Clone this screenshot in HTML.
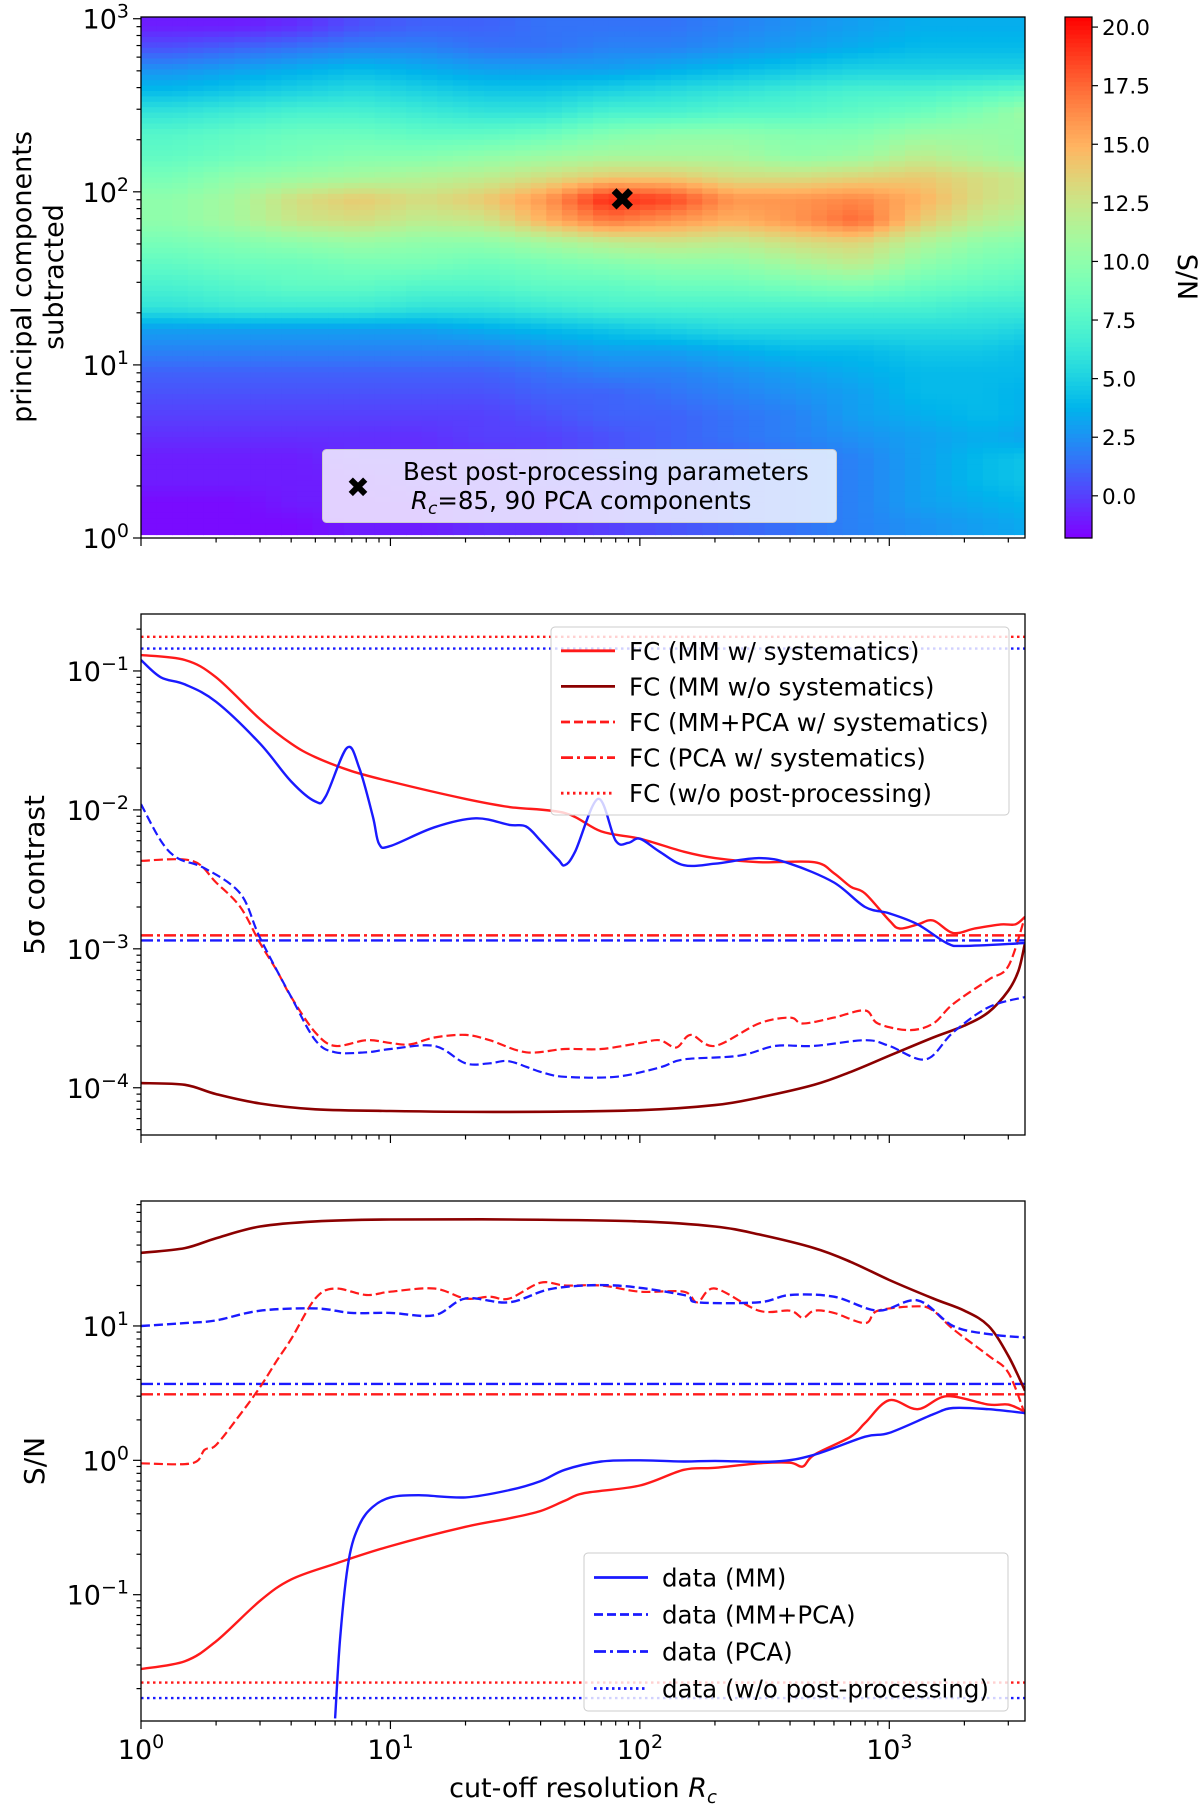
<!DOCTYPE html>
<html><head><meta charset="utf-8"><style>
html,body{margin:0;padding:0;background:#fff;}
svg{display:block;font-family:"DejaVu Sans","Liberation Sans",sans-serif;}
</style></head><body>
<svg id="fig" width="1200" height="1805" viewBox="0 0 1200 1805" xmlns="http://www.w3.org/2000/svg"></svg>
<script>
// ---------- Heatmap data (rows top -> bottom, log10(PCs) bands of 0.125; columns log10(Rc) bands of 0.25) ----------
const heatRows = [
[-1,-1,-0.5,0.5,1,1,1.5,1.5,1.5,2,2.5,3,3.5,3.5,3.5],
[0.5,1,1.5,2,2,1.5,1.5,2,2,2.5,3,3.5,4,4,4],
[2.5,3,3.5,4,3.5,3,3,3,3.5,4,4.5,5,5,5,5],
[4,4.5,5,5.5,5,4.5,4.5,5,5.5,6,6.5,7,7,7.5,8],
[6,6.5,7,7,6.5,6,6,7,7,7.5,7.5,8,8.5,9.5,11],
[7.5,8,8.5,8.5,8,8,8.5,9.5,10,10,9.5,9.5,10.5,10.5,10],
[8,8.5,9,9.5,9.5,10,10.5,11,11,11,10,10.5,12,11,10],
[9,10,10.5,11,11.5,12,13,14,14,13,13,13.5,14,13,12],
[10,11,13,14,13,14,16,19.5,18.5,16,16,16.5,15,13,12],
[10,11,12.5,13,12,12.5,15,17,16,15,16,17.5,14,12,11],
[9,9.5,10,10.5,10,10,11,12,12.5,12,13,13.5,11.5,10,9.5],
[8,8.5,8.5,9,9,8.5,9,9.5,10,10,11,12,10,9,8.5],
[7,7.5,8,8,7.5,7.5,8,8,8.5,8.5,9,9.5,8.5,8,7.5],
[6,6.5,6.5,6.5,6,6,6.5,7,7,7,7,7,7,6.5,6.5],
[3,3,3,3,3,3.5,4,4.5,5,5.5,5.5,5.5,5.5,5.5,5],
[2,2,2,2,2,2,2.5,3,3,3.5,4,4,4.5,4.5,4],
[1,1,1,1,1,1,1.5,2,2,2.5,3,3.5,4,4,4],
[0.5,0.5,0.5,0.5,0.5,0.5,1,1,1.5,2,2.5,3,4,4,3.5],
[0,0,0,0,0,0,0.5,1,1,1.5,2,3,3.5,4,3.5],
[-0.5,-0.5,-0.5,-0.5,-0.5,0,0,0.5,1,1.5,2,2.5,3,3.5,3],
[-1,-1,-1,-0.5,-0.5,-0.5,0,0.5,1,1,1.5,2,3,4,4.5],
[-1,-1,-1,-1,-0.5,-0.5,0,0,0.5,1,1.5,2,3,4,4.5],
[-1.5,-1.5,-1,-1,-1,-0.5,-0.5,0,0.5,1,1.5,2,3,3.5,4],
[-1.5,-1.5,-1.5,-1,-1,-0.5,-0.5,0,0.5,1,1.5,2,2.5,3,3.5]
];
const bestRc = 85, bestPC = 90;
const cbTicks = [0,2.5,5,7.5,10,12.5,15,17.5,20];

// ---------- Contrast panel data ----------
const cMMsysX = [1,1.5,2,3,4,5,7,10,20,30,50,70,100,150,200,300,500,600,700,800,1000,1100,1300,1500,1800,2200,2800,3200,3500];
const cMMsysY = [0.13,0.12,0.09,0.045,0.03,0.024,0.019,0.016,0.012,0.0105,0.0095,0.007,0.0062,0.005,0.0045,0.0042,0.0042,0.0035,0.0028,0.0025,0.0016,0.0014,0.0015,0.0016,0.0013,0.0014,0.0015,0.0015,0.0017];
const cDataMMX = [1,1.2,1.5,2,3,4,5,5.5,6.7,7.5,8.5,9,10,15,22,30,35,40,47,50,55,68,80,90,100,120,150,200,300,400,600,800,1000,1300,1700,2000,3500];
const cDataMMY = [0.12,0.09,0.08,0.06,0.03,0.016,0.0115,0.0125,0.028,0.02,0.009,0.0057,0.0055,0.0075,0.0087,0.0078,0.0076,0.006,0.0044,0.004,0.005,0.012,0.006,0.0058,0.0062,0.005,0.004,0.0041,0.0045,0.0041,0.003,0.002,0.0018,0.0015,0.0011,0.00105,0.0011];
const cMMnosysX = [1,1.5,2,3,5,10,30,100,200,300,500,700,1000,1500,2000,2500,3000,3300,3500];
const cMMnosysY = [1.08e-4,1.05e-4,9e-5,7.7e-5,7e-5,6.8e-5,6.7e-5,6.9e-5,7.5e-5,8.5e-5,1.05e-4,1.3e-4,1.7e-4,2.3e-4,2.8e-4,3.5e-4,5e-4,7e-4,1.1e-3];
const cMMPCAsysX = [1,1.6,2,2.5,3,3.5,4,5,6,8,10,12,15,20,25,35,50,70,100,120,140,160,200,300,400,450,600,800,900,1200,1500,1800,2500,3000,3500];
const cMMPCAsysY = [0.0043,0.0043,0.003,0.002,0.0011,7e-4,4.5e-4,2.5e-4,2e-4,2.2e-4,2.1e-4,2.05e-4,2.3e-4,2.4e-4,2.2e-4,1.8e-4,1.9e-4,1.9e-4,2.1e-4,2.2e-4,1.95e-4,2.4e-4,2e-4,2.9e-4,3.2e-4,2.9e-4,3.2e-4,3.6e-4,2.9e-4,2.6e-4,2.9e-4,4e-4,6e-4,7.5e-4,1.7e-3];
const cDataMMPCAX = [1,1.2,1.4,1.8,2.5,3,4,5,6,8,10,15,20,25,30,40,50,80,120,150,250,350,500,800,1000,1400,1800,2500,3500];
const cDataMMPCAY = [0.011,0.006,0.0045,0.0038,0.0025,0.0012,4.5e-4,2.2e-4,1.8e-4,1.8e-4,1.9e-4,2e-4,1.5e-4,1.5e-4,1.55e-4,1.3e-4,1.2e-4,1.2e-4,1.4e-4,1.6e-4,1.7e-4,2e-4,2e-4,2.2e-4,2e-4,1.6e-4,2.5e-4,3.8e-4,4.5e-4];
const cPCAsys = 1.25e-3, cDataPCA = 1.15e-3, cNoPPsys = 0.176, cDataNoPP = 0.145;

// ---------- S/N panel data ----------
const sMMnosysX = [1,1.5,2,3,5,10,30,100,200,300,500,700,1000,1500,2000,2500,3000,3500];
const sMMnosysY = [35,38,45,55,60,62,62,60,55,48,38,30,22,16,13,10,6,3.3];
const sMMPCAsysX = [1,1.6,1.8,2,2.5,3,3.5,4,5,6,8,10,15,20,25,30,40,50,70,100,150,170,200,300,400,450,500,600,800,900,1300,1500,1800,2500,3000,3500];
const sMMPCAsysY = [0.95,0.95,1.2,1.3,2.2,3.5,5.5,8,16,19,17,18,19,16,16.5,16,21,20,20,18,18,15,19,13,13,11.5,13,12.5,10.5,13,14,13,9.5,6,4.5,2.2];
const sDataMMPCAX = [1,1.5,2,3,5,7,10,15,20,30,45,80,150,170,300,400,600,900,1300,1800,2500,3500];
const sDataMMPCAY = [10,10.5,11,13,13.5,12.5,12.5,12,16,15,19,20,17,15,15,17,16.5,13,15.5,10,8.7,8.2];
const sMMsysX = [1,1.5,2,3,4,6,10,20,30,40,50,60,100,150,200,300,400,450,500,700,800,1000,1300,1700,2500,3000,3500];
const sMMsysY = [0.028,0.032,0.045,0.09,0.13,0.17,0.23,0.32,0.37,0.42,0.5,0.57,0.65,0.85,0.88,0.95,0.96,0.9,1.1,1.5,1.9,2.8,2.4,3.0,2.6,2.6,2.3];
const sDataMMX = [6.0,6.3,6.8,7.5,8.5,10,13,20,30,40,50,70,100,150,200,350,500,800,1000,1500,1800,2500,3500];
const sDataMMY = [0.012,0.05,0.18,0.33,0.45,0.53,0.55,0.53,0.6,0.7,0.85,0.98,1.0,0.98,0.99,0.98,1.1,1.5,1.6,2.2,2.45,2.4,2.25];
const sPCAsys = 3.1, sDataPCA = 3.7, sNoPPsys = 0.0222, sDataNoPP = 0.017;

// ---------- helpers ----------
const NS = "http://www.w3.org/2000/svg";
const svg = document.getElementById('fig');
function mk(tag, attrs, parent){ const e=document.createElementNS(NS,tag); for(const k in attrs) e.setAttribute(k,attrs[k]); (parent||svg).appendChild(e); return e; }
const X0=141, X1=1025, XMAXLOG=Math.log10(3500);
function xs(v){ return X0 + (Math.log10(v))/XMAXLOG*(X1-X0); }
function logScale(top,bottom,lmin,lmax){ return v => bottom - (Math.log10(v)-lmin)/(lmax-lmin)*(bottom-top); }
function rainbow(t){ t=Math.max(0,Math.min(1,t)); const r=Math.min(1,Math.abs(2*t-0.5)), g=Math.sin(Math.PI*t), b=Math.cos(Math.PI*t/2);
  return `rgb(${Math.round(r*255)},${Math.round(g*255)},${Math.round(b*255)})`; }
function pathFrom(xa,ya,ys,clipTop,clipBot){
  const P=xa.map((x,i)=>{ let y=ys(ya[i]); y=Math.max(clipTop-40,Math.min(clipBot+40,y)); return [xs(x),y]; });
  let d='M'+P[0][0].toFixed(1)+' '+P[0][1].toFixed(1);
  for(let i=0;i<P.length-1;i++){ const p0=P[Math.max(0,i-1)],p1=P[i],p2=P[i+1],p3=P[Math.min(P.length-1,i+2)];
    const c1=[p1[0]+(p2[0]-p0[0])/6,p1[1]+(p2[1]-p0[1])/6], c2=[p2[0]-(p3[0]-p1[0])/6,p2[1]-(p3[1]-p1[1])/6];
    d+='C'+c1[0].toFixed(1)+' '+c1[1].toFixed(1)+' '+c2[0].toFixed(1)+' '+c2[1].toFixed(1)+' '+p2[0].toFixed(1)+' '+p2[1].toFixed(1); }
  return d; }
function sup(parent, x, y, base, exp, anchor, size){
  const t=mk('text',{x:x,y:y,'font-size':size||22,'text-anchor':anchor||'middle',fill:'#000'},parent);
  const a=document.createElementNS(NS,'tspan'); a.textContent=base; t.appendChild(a);
  const b=document.createElementNS(NS,'tspan'); b.setAttribute('dy','-11'); b.setAttribute('font-size',Math.round((size||22)*0.7)); b.textContent=exp; t.appendChild(b);
  return t;
}
function xAxis(g, top, bottom, labels){
  for(let d=0; d<=3; d++){
    for(let m=1;m<=9;m++){ const v=m*Math.pow(10,d); if(v>3500) break; const x=xs(v);
      mk('line',{x1:x,x2:x,y1:bottom,y2:bottom+(m===1?8:4.5),stroke:'#000','stroke-width':1.2},g);
    }
    if(labels){ const l=sup(g, xs(Math.pow(10,d)), bottom+38, '10', String(d), 'middle', 27);
        }
  }
}
function yAxis(g, top, bottom, ys, lmin, lmax, labelExps){
  for(let d=Math.floor(lmin); d<=Math.ceil(lmax); d++){
    for(let m=1;m<=9;m++){ const v=m*Math.pow(10,d); const lv=Math.log10(v); if(lv<lmin-1e-9||lv>lmax+1e-9) continue; const y=ys(v);
      mk('line',{x1:X0,x2:X0-(m===1?8:4.5),y1:y,y2:y,stroke:'#000','stroke-width':1.2},g); }
  }
  labelExps.forEach(e=>{ const l=sup(g, X0-12, ys(Math.pow(10,e))+10, '10', String(e).replace('-','−'), 'end', 27);
      });
}
function frame(g,top,bottom){ mk('rect',{x:X0,y:top,width:X1-X0,height:bottom-top,fill:'none',stroke:'#000','stroke-width':1.3},g); }
const DASH={solid:null,dashed:'9,4',dashdot:'12,4,3,4',dotted:'2.5,3.5'};

// ================= PANEL 1: heatmap =================
const T1=17, B1=538;
const ys1 = logScale(T1,B1,0,3.01);
const g1 = mk('g',{});  
const clip=mk('clipPath',{id:'c1'}); mk('rect',{x:X0,y:T1,width:X1-X0,height:B1-T1},clip);
const gh = mk('g',{'clip-path':'url(#c1)'},g1);
const VMIN=-1.8, VMAX=20.43;
const nR=heatRows.length, nC=heatRows[0].length;
function valAt(rf,cf){ // bilinear on cell centers
  rf=Math.max(0,Math.min(nR-1,rf)); cf=Math.max(0,Math.min(nC-1,cf));
  const r0=Math.floor(rf), c0=Math.floor(cf), r1=Math.min(nR-1,r0+1), c1=Math.min(nC-1,c0+1), fr=rf-r0, fc=cf-c0;
  return heatRows[r0][c0]*(1-fr)*(1-fc)+heatRows[r0][c1]*(1-fr)*fc+heatRows[r1][c0]*fr*(1-fc)+heatRows[r1][c1]*fr*fc; }
const SUB=4;
for(let ri=0;ri<nR;ri++){ for(let si=0;si<SUB;si++){
  const lyTop = 3.02 - (ri*SUB+si)*0.125/SUB, lyBot = lyTop-0.125/SUB;
  const yT=ys1(Math.pow(10,lyTop)), yB=ys1(Math.pow(10,lyBot));
  for(let ci=0;ci<nC;ci++){ for(let sj=0;sj<SUB;sj++){
    const lxa=(ci*SUB+sj)*0.25/SUB, lxb=lxa+0.25/SUB;
    const xa = X0 + lxa/XMAXLOG*(X1-X0), xb = X0 + lxb/XMAXLOG*(X1-X0);
    const v=valAt(ri+(si+0.5)/SUB-0.5, ci+(sj+0.5)/SUB-0.5);
    const r=mk('rect',{x:xa.toFixed(1),y:yT.toFixed(1),width:(xb-xa+0.6).toFixed(1),height:(yB-yT+0.6).toFixed(1),fill:rainbow((v-VMIN)/(VMAX-VMIN))},gh);
    
    
  }}
}}
frame(g1,T1,B1);
xAxis(g1,T1,B1,false);
yAxis(g1,T1,B1,ys1,0,3.01,[0,1,2,3]);
const bm=mk('text',{x:xs(bestRc),y:ys1(bestPC)+11,'font-size':32,'text-anchor':'middle','font-weight':'bold',fill:'#000'},g1); bm.textContent='✖';
 
const lg1=mk('g',{},g1);  
mk('rect',{x:322.5,y:449.5,width:514,height:73,rx:4,fill:'rgba(255,255,255,0.8)',stroke:'#ccc','stroke-width':1},lg1);
let t=mk('text',{x:358,y:497,'font-size':28,'text-anchor':'middle',fill:'#000'},lg1); t.textContent='✖';
t=mk('text',{x:403,y:480,'font-size':24.5,fill:'#000'},lg1); t.textContent='Best post-processing parameters';
t=mk('text',{x:411,y:509,'font-size':24.5,fill:'#000'},lg1); t.innerHTML='<tspan font-style="italic">R</tspan><tspan font-style="italic" font-size="17" dy="5">c</tspan><tspan dy="-5">=85, 90 PCA components</tspan>';
t=mk('text',{transform:'translate(31,277) rotate(-90)','font-size':27,'text-anchor':'middle',fill:'#000'},g1); t.textContent='principal components';
 
t=mk('text',{transform:'translate(63,277) rotate(-90)','font-size':27,'text-anchor':'middle',fill:'#000'},g1); t.textContent='subtracted';
const cb=mk('g',{},g1);  
const CBX=1065, CBW=27, CBN=120;
for(let i=0;i<CBN;i++){ const y=T1+(B1-T1)*i/CBN; mk('rect',{x:CBX,y:y.toFixed(2),width:CBW,height:((B1-T1)/CBN+0.6).toFixed(2),fill:rainbow(1-(i+0.5)/CBN)},cb); }
mk('rect',{x:CBX,y:T1,width:CBW,height:B1-T1,fill:'none',stroke:'#000','stroke-width':1.2},cb);
cbTicks.forEach(v=>{ const y=B1-(v-VMIN)/(VMAX-VMIN)*(B1-T1);
  mk('line',{x1:CBX+CBW,x2:CBX+CBW+6,y1:y,y2:y,stroke:'#000','stroke-width':1.2},cb);
  const l=mk('text',{x:CBX+CBW+10,y:y+8,'font-size':21.5,fill:'#000'},cb); l.textContent=v.toFixed(1);
    });
t=mk('text',{transform:'translate(1178,277) rotate(90)','font-size':27,'text-anchor':'middle',fill:'#000'},cb); t.textContent='S/N';
 

// ================= PANEL 2: contrast =================
const T2=614, B2=1135;
const ys2 = logScale(T2,B2,-4.34,-0.59);
const g2=mk('g',{});  
const clip2=mk('clipPath',{id:'c2'}); mk('rect',{x:X0,y:T2,width:X1-X0,height:B2-T2},clip2);
const gl2=mk('g',{'clip-path':'url(#c2)'},g2);
function series(g,name,xa,ya,ys,color,dash,w,top,bot){ const p=mk('path',{d:pathFrom(xa,ya,ys,top,bot),fill:'none',stroke:color,'stroke-width':w||2.2,'stroke-linejoin':'round'},g); if(DASH[dash]) p.setAttribute('stroke-dasharray',DASH[dash]);
    return p; }
function hline(g,name,v,ys,color,dash){ const y=ys(v); const p=mk('line',{x1:X0,x2:X1,y1:y,y2:y,stroke:color,'stroke-width':2.4},g); p.setAttribute('stroke-dasharray',DASH[dash]);
    }
hline(gl2,'fc-no-postprocessing-line',cNoPPsys,ys2,'#ff1a1a','dotted');
hline(gl2,'data-no-postprocessing-line',cDataNoPP,ys2,'#1a1aff','dotted');
hline(gl2,'fc-pca-sys-line',cPCAsys,ys2,'#ff1a1a','dashdot');
hline(gl2,'data-pca-line',cDataPCA,ys2,'#1a1aff','dashdot');
series(gl2,'fc-mm-nosys-line',cMMnosysX,cMMnosysY,ys2,'#8b0000','solid',2.6,T2,B2);
series(gl2,'fc-mmpca-sys-line',cMMPCAsysX,cMMPCAsysY,ys2,'#ff1a1a','dashed',2.2,T2,B2);
series(gl2,'data-mmpca-line',cDataMMPCAX,cDataMMPCAY,ys2,'#1a1aff','dashed',2.2,T2,B2);
series(gl2,'fc-mm-sys-line',cMMsysX,cMMsysY,ys2,'#ff1a1a','solid',2.4,T2,B2);
series(gl2,'data-mm-line',cDataMMX,cDataMMY,ys2,'#1a1aff','solid',2.4,T2,B2);
frame(g2,T2,B2); xAxis(g2,T2,B2,false); yAxis(g2,T2,B2,ys2,-4.34,-0.59,[-1,-2,-3,-4]);
t=mk('text',{transform:'translate(44,875) rotate(-90)','font-size':28,'text-anchor':'middle',fill:'#000'},g2); t.textContent='5σ contrast';
 
function legend(g,name,x,y,w,h,entries){
  const lg=mk('g',{},g);  
  mk('rect',{x:x,y:y,width:w,height:h,rx:4,fill:'rgba(255,255,255,0.8)',stroke:'#ccc','stroke-width':1},lg);
  const step=(h-10)/entries.length;
  entries.forEach((e,i)=>{ const cy=y+6+step*(i+0.5);
    const l=mk('line',{x1:x+10,x2:x+64,y1:cy,y2:cy,stroke:e[1],'stroke-width':2.8},lg); if(DASH[e[2]]) l.setAttribute('stroke-dasharray',DASH[e[2]]);
    const tt=mk('text',{x:x+78,y:cy+9,'font-size':24.5,fill:'#000'},lg); tt.textContent=e[0];
      });
}
legend(g2,'contrast-legend',551,627,458,188,[
 ['FC (MM w/ systematics)','#ff1a1a','solid'],
 ['FC (MM w/o systematics)','#8b0000','solid'],
 ['FC (MM+PCA w/ systematics)','#ff1a1a','dashed'],
 ['FC (PCA w/ systematics)','#ff1a1a','dashdot'],
 ['FC (w/o post-processing)','#ff1a1a','dotted']]);

// ================= PANEL 3: S/N =================
const T3=1201, B3=1721;
const ys3 = logScale(T3,B3,-1.94,1.93);
const g3=mk('g',{});  
const clip3=mk('clipPath',{id:'c3'}); mk('rect',{x:X0,y:T3,width:X1-X0,height:B3-T3},clip3);
const gl3=mk('g',{'clip-path':'url(#c3)'},g3);
hline(gl3,'fc-no-postprocessing-line',sNoPPsys,ys3,'#ff1a1a','dotted');
hline(gl3,'data-no-postprocessing-line',sDataNoPP,ys3,'#1a1aff','dotted');
hline(gl3,'fc-pca-sys-line',sPCAsys,ys3,'#ff1a1a','dashdot');
hline(gl3,'data-pca-line',sDataPCA,ys3,'#1a1aff','dashdot');
series(gl3,'fc-mm-nosys-line',sMMnosysX,sMMnosysY,ys3,'#8b0000','solid',2.6,T3,B3);
series(gl3,'fc-mmpca-sys-line',sMMPCAsysX,sMMPCAsysY,ys3,'#ff1a1a','dashed',2.2,T3,B3);
series(gl3,'data-mmpca-line',sDataMMPCAX,sDataMMPCAY,ys3,'#1a1aff','dashed',2.4,T3,B3);
series(gl3,'fc-mm-sys-line',sMMsysX,sMMsysY,ys3,'#ff1a1a','solid',2.4,T3,B3);
series(gl3,'data-mm-line',sDataMMX,sDataMMY,ys3,'#1a1aff','solid',2.4,T3,B3);
frame(g3,T3,B3); xAxis(g3,T3,B3,true); yAxis(g3,T3,B3,ys3,-1.94,1.93,[1,0,-1]);
t=mk('text',{transform:'translate(44,1461) rotate(-90)','font-size':28,'text-anchor':'middle',fill:'#000'},g3); t.textContent='S/N';
 
t=mk('text',{x:583,y:1797,'font-size':27,'text-anchor':'middle',fill:'#000'},g3); t.innerHTML='cut-off resolution <tspan font-style="italic">R</tspan><tspan font-style="italic" font-size="18" dy="6">c</tspan>';
 
legend(g3,'snr-legend',584,1553,424,158,[
 ['data (MM)','#1a1aff','solid'],
 ['data (MM+PCA)','#1a1aff','dashed'],
 ['data (PCA)','#1a1aff','dashdot'],
 ['data (w/o post-processing)','#1a1aff','dotted']]);
</script>
</body></html>
